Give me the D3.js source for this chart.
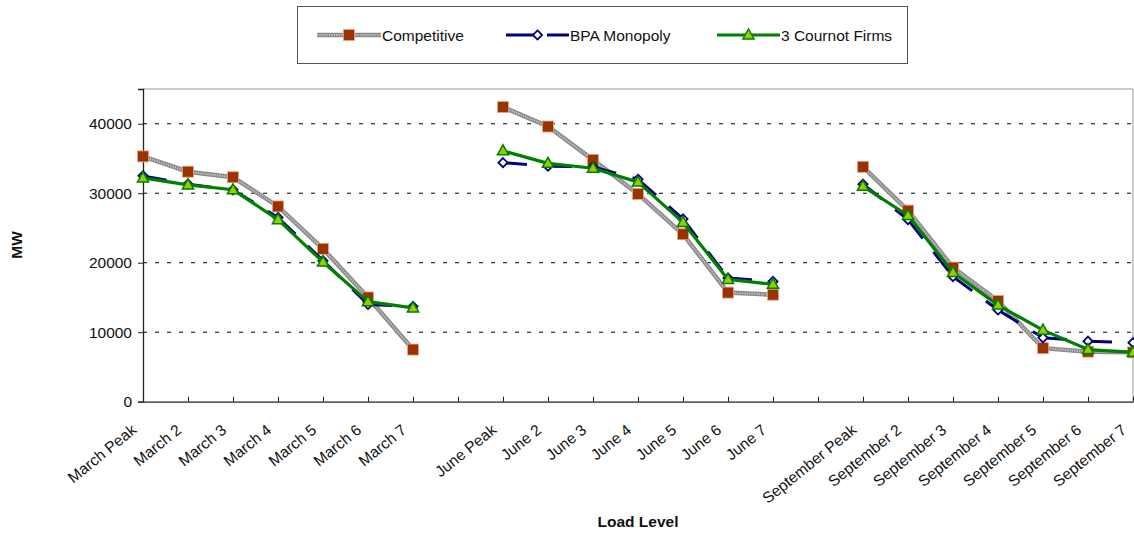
<!DOCTYPE html>
<html>
<head>
<meta charset="utf-8">
<script src="https://cdn.jsdelivr.net/npm/d3@7"></script>
<style>
  html, body { margin: 0; padding: 0; background: #fff; }
  svg { display: block; font-family: "Liberation Sans", Arial, sans-serif; }
</style>
</head>
<body>
<svg id="chart" width="1134" height="533"></svg>
<script>
// Load levels by month; empty entries separate the three months.
const categories = [
  "March Peak", "March 2", "March 3", "March 4", "March 5", "March 6", "March 7", "",
  "June Peak", "June 2", "June 3", "June 4", "June 5", "June 6", "June 7", "",
  "September Peak", "September 2", "September 3", "September 4", "September 5", "September 6", "September 7"
];

// MW by load level (null = no value)
const competitive = [
  35300, 33100, 32300, 28100, 22000, 15000, 7500, null,
  42400, 39600, 34800, 29900, 24100, 15700, 15400, null,
  33800, 27500, 19300, 14500, 7700, 7200, 7100
];
const bpaMonopoly = [
  32500, 31300, 30500, 26500, 20300, 14000, 13700, null,
  34400, 33900, 33800, 32000, 26300, 17800, 17300, null,
  31300, 26200, 18000, 13200, 9200, 8700, 8500
];
const cournot = [
  32200, 31200, 30500, 26200, 20100, 14400, 13500, null,
  36100, 34300, 33600, 31600, 25800, 17600, 16900, null,
  31000, 26800, 18600, 13900, 10300, 7500, 7100
];

const yTicks = [0, 10000, 20000, 30000, 40000];
const seriesNames = ["Competitive", "BPA Monopoly", "3 Cournot Firms"];

const FONT = 15.5;
const svg = d3.select("#chart");
const plot = { left: 143, right: 1133, top: 89, bottom: 401.7 };

const x = d3.scalePoint()
  .domain(d3.range(categories.length))
  .range([plot.left, plot.right]);

const y = d3.scaleLinear()
  .domain([0, 45000])
  .range([plot.bottom, plot.top]);

// plot-area frame (top and right)
svg.append("path")
  .attr("d", `M${plot.left},${plot.top}H${plot.right}V${plot.bottom}`)
  .attr("fill", "none")
  .attr("stroke", "#9a9a9a")
  .attr("stroke-width", 1);

// dashed gridlines
svg.append("g")
  .selectAll("line")
  .data(yTicks.filter(d => d > 0))
  .join("line")
  .attr("x1", plot.left).attr("x2", plot.right)
  .attr("y1", d => y(d)).attr("y2", d => y(d))
  .attr("stroke", "#000")
  .attr("stroke-width", 1)
  .attr("stroke-dasharray", "4,8");

// y axis
const yAxis = svg.append("g")
  .attr("transform", `translate(${plot.left},0)`)
  .call(d3.axisLeft(y).tickValues(yTicks).tickSize(5).tickPadding(6).tickFormat(d3.format("d")));
yAxis.select(".domain").attr("stroke", "#222").attr("stroke-width", 1.3);
yAxis.selectAll(".tick line").attr("stroke", "#222");
yAxis.selectAll("text").attr("font-size", FONT).attr("fill", "#111")
  .attr("font-family", "Liberation Sans, Arial, sans-serif");

// x axis with inward tick marks and slanted labels
const xAxis = svg.append("g")
  .attr("transform", `translate(0,${plot.bottom})`)
  .call(d3.axisBottom(x).tickSize(-5).tickSizeOuter(0).tickFormat(i => categories[i]));
xAxis.select(".domain").attr("stroke", "#222").attr("stroke-width", 1.3);
xAxis.selectAll(".tick line").attr("stroke", "#222");
xAxis.selectAll("text")
  .attr("font-size", FONT)
  .attr("fill", "#111")
  .attr("font-family", "Liberation Sans, Arial, sans-serif")
  .attr("text-anchor", "end")
  .attr("x", 0).attr("y", 0).attr("dy", 0)
  .attr("transform", "translate(-6,30) rotate(-39)");

// axis titles
svg.append("text")
  .attr("x", 638).attr("y", 527)
  .attr("text-anchor", "middle")
  .attr("font-size", FONT).attr("font-weight", "bold").attr("fill", "#111")
  .text("Load Level");
svg.append("text")
  .attr("transform", "translate(22,245) rotate(-90)")
  .attr("text-anchor", "middle")
  .attr("font-size", FONT).attr("font-weight", "bold").attr("fill", "#111")
  .text("MW");

const pts = arr => arr.map((v, i) => ({ i, v }));
const line = d3.line().defined(d => d.v !== null).x(d => x(d.i)).y(d => y(d.v));

// marker drawers
function square(g, cx, cy) {
  g.append("rect")
    .attr("x", cx - 5.5).attr("y", cy - 5.5)
    .attr("width", 11).attr("height", 11)
    .attr("fill", "#993300").attr("stroke", "#e2a58a").attr("stroke-width", 0.8);
}
function diamond(g, cx, cy) {
  g.append("path")
    .attr("d", `M${cx},${cy - 4.6}L${cx + 4.6},${cy}L${cx},${cy + 4.6}L${cx - 4.6},${cy}Z`)
    .attr("fill", "#fff").attr("stroke", "#000080").attr("stroke-width", 1.8);
}
function triangle(g, cx, cy) {
  g.append("path")
    .attr("d", `M${cx},${cy - 6}L${cx + 5.6},${cy + 4}L${cx - 5.6},${cy + 4}Z`)
    .attr("fill", "#99cc00").attr("stroke", "#008000").attr("stroke-width", 1.5);
}

// Competitive: textured gray line
const gComp = svg.append("g");
gComp.append("path").datum(pts(competitive)).attr("d", line)
  .attr("fill", "none").attr("stroke", "#8a8a8a").attr("stroke-width", 4.5);
gComp.append("path").datum(pts(competitive)).attr("d", line)
  .attr("fill", "none").attr("stroke", "#c4c4c4").attr("stroke-width", 2)
  .attr("stroke-dasharray", "1.2,1.2");
pts(competitive).filter(d => d.v !== null).forEach(d => square(gComp, x(d.i), y(d.v)));

// BPA Monopoly: long-dash navy line, pattern restarting on each segment
const gBpa = svg.append("g");
const bp = pts(bpaMonopoly);
for (let k = 0; k < bp.length - 1; k++) {
  const a = bp[k], b = bp[k + 1];
  if (a.v === null || b.v === null) continue;
  gBpa.append("line")
    .attr("x1", x(a.i)).attr("y1", y(a.v))
    .attr("x2", x(b.i)).attr("y2", y(b.v))
    .attr("stroke", "#000080").attr("stroke-width", 3)
    .attr("stroke-dasharray", "24,17");
}
bp.filter(d => d.v !== null).forEach(d => diamond(gBpa, x(d.i), y(d.v)));

// 3 Cournot Firms: solid green line
const gCour = svg.append("g");
gCour.append("path").datum(pts(cournot)).attr("d", line)
  .attr("fill", "none").attr("stroke", "#008000").attr("stroke-width", 3.2)
  .attr("stroke-linejoin", "round");
pts(cournot).filter(d => d.v !== null).forEach(d => triangle(gCour, x(d.i), y(d.v)));

// legend
const lg = svg.append("g");
lg.append("rect")
  .attr("x", 297.5).attr("y", 6.5).attr("width", 610).attr("height", 57)
  .attr("fill", "#fff").attr("stroke", "#555").attr("stroke-width", 1);

const legendItems = [
  { name: seriesNames[0], x0: 317, x1: 381, tx: 382 },
  { name: seriesNames[1], x0: 506, x1: 569, tx: 570 },
  { name: seriesNames[2], x0: 717, x1: 780, tx: 781 }
];
const ly = 35;
// Competitive sample
lg.append("line").attr("x1", legendItems[0].x0).attr("x2", legendItems[0].x1)
  .attr("y1", ly).attr("y2", ly).attr("stroke", "#8a8a8a").attr("stroke-width", 4.5);
lg.append("line").attr("x1", legendItems[0].x0).attr("x2", legendItems[0].x1)
  .attr("y1", ly).attr("y2", ly).attr("stroke", "#c4c4c4").attr("stroke-width", 2)
  .attr("stroke-dasharray", "1.2,1.2");
square(lg, (legendItems[0].x0 + legendItems[0].x1) / 2, ly);
// BPA sample
lg.append("line").attr("x1", legendItems[1].x0).attr("x2", legendItems[1].x1)
  .attr("y1", ly).attr("y2", ly).attr("stroke", "#000080").attr("stroke-width", 3)
  .attr("stroke-dasharray", "28,13");
diamond(lg, (legendItems[1].x0 + legendItems[1].x1) / 2, ly);
// Cournot sample
lg.append("line").attr("x1", legendItems[2].x0).attr("x2", legendItems[2].x1)
  .attr("y1", ly).attr("y2", ly).attr("stroke", "#008000").attr("stroke-width", 3.2);
triangle(lg, (legendItems[2].x0 + legendItems[2].x1) / 2, ly);

lg.selectAll("text.lbl")
  .data(legendItems)
  .join("text")
  .attr("class", "lbl")
  .attr("x", d => d.tx).attr("y", ly + 5.5)
  .attr("font-size", FONT).attr("fill", "#111")
  .text(d => d.name);
</script>
</body>
</html>
